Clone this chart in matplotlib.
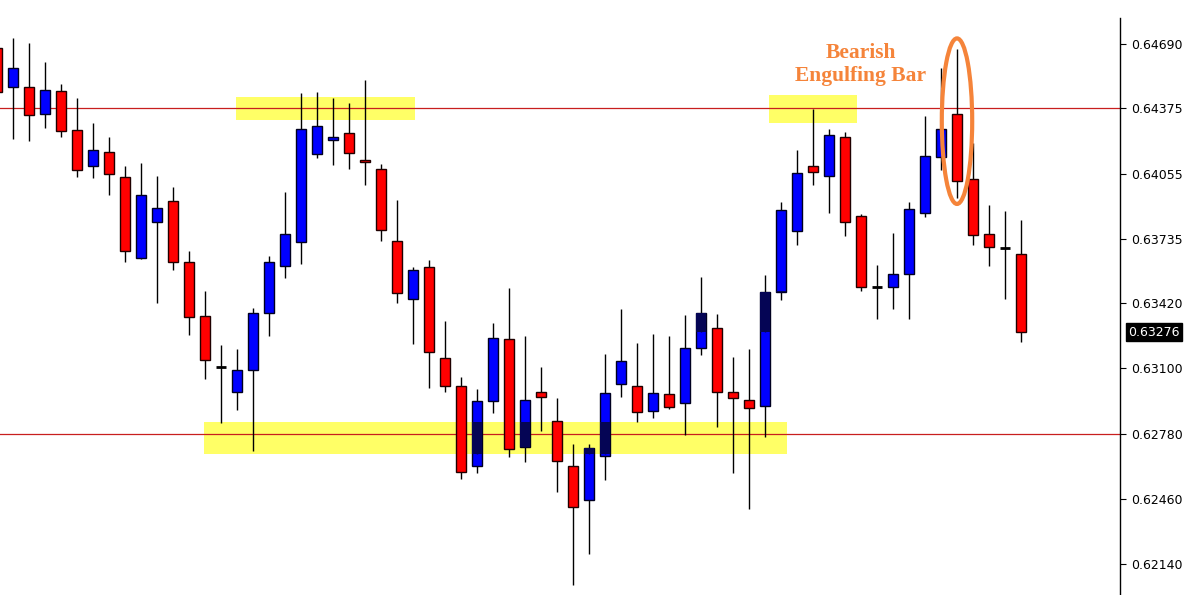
"""Candlestick chart: double top with a bearish engulfing bar."""

import matplotlib
matplotlib.use("Agg")
import matplotlib.pyplot as plt
from matplotlib.patches import Ellipse, Rectangle
import numpy as np

# OHLC, oldest first (first candle is cut by the left edge)
opens = [
    0.64670, 0.64479, 0.64479, 0.64347, 0.64460, 0.64268, 0.64092, 0.64160,
    0.64038, 0.63641, 0.63817, 0.63920, 0.63621, 0.63356, 0.63105, 0.62983,
    0.63091, 0.63371, 0.63601, 0.63719, 0.64151, 0.64219, 0.64254, 0.64121,
    0.64077, 0.63724, 0.63440, 0.63596, 0.63150, 0.63013, 0.62621, 0.62939,
    0.63243, 0.62714, 0.62983, 0.62841, 0.62621, 0.62454, 0.62670, 0.63023,
    0.63013, 0.62890, 0.62974, 0.62930, 0.63199, 0.63297, 0.62983, 0.62944,
    0.62915, 0.63474, 0.63773, 0.64092, 0.64043, 0.64234, 0.63847, 0.63498,
    0.63498, 0.63562, 0.63861, 0.64136, 0.64347, 0.64028, 0.63758, 0.63690,
    0.63660,
]
highs = [
    0.64700, 0.64719, 0.64695, 0.64602, 0.64494, 0.64425, 0.64303, 0.64234,
    0.64092, 0.64106, 0.64043, 0.63989, 0.63675, 0.63479, 0.63214, 0.63194,
    0.63395, 0.63650, 0.63964, 0.64450, 0.64455, 0.64425, 0.64401, 0.64513,
    0.64102, 0.63925, 0.63596, 0.63631, 0.63332, 0.63057, 0.62998, 0.63322,
    0.63493, 0.63258, 0.63106, 0.62954, 0.62728, 0.62728, 0.63170, 0.63390,
    0.63224, 0.63268, 0.63258, 0.63361, 0.63547, 0.63366, 0.63155, 0.63194,
    0.63557, 0.63915, 0.64170, 0.64370, 0.64273, 0.64258, 0.63856, 0.63606,
    0.63763, 0.63915, 0.64337, 0.64572, 0.64665, 0.64205, 0.63900, 0.63871,
    0.63827,
]
lows = [
    0.64425, 0.64224, 0.64214, 0.64278, 0.64234, 0.64038, 0.64033, 0.63950,
    0.63621, 0.63636, 0.63420, 0.63582, 0.63263, 0.63047, 0.62831, 0.62895,
    0.62694, 0.63258, 0.63542, 0.63611, 0.64131, 0.64097, 0.64077, 0.63999,
    0.63724, 0.63420, 0.63219, 0.63003, 0.62983, 0.62557, 0.62586, 0.62880,
    0.62665, 0.62640, 0.62792, 0.62493, 0.62037, 0.62189, 0.62552, 0.62959,
    0.62836, 0.62856, 0.62900, 0.62773, 0.63165, 0.62812, 0.62586, 0.62410,
    0.62763, 0.63435, 0.63704, 0.63999, 0.63861, 0.63748, 0.63479, 0.63341,
    0.63390, 0.63341, 0.63842, 0.64072, 0.63935, 0.63704, 0.63601, 0.63440,
    0.63229,
]
closes = [
    0.64455, 0.64572, 0.64342, 0.64464, 0.64263, 0.64072, 0.64170, 0.64053,
    0.63675, 0.63950, 0.63886, 0.63621, 0.63351, 0.63140, 0.63105, 0.63091,
    0.63371, 0.63621, 0.63758, 0.64273, 0.64288, 0.64234, 0.64155, 0.64111,
    0.63778, 0.63469, 0.63582, 0.63180, 0.63013, 0.62591, 0.62939, 0.63248,
    0.62704, 0.62944, 0.62959, 0.62645, 0.62419, 0.62709, 0.62979, 0.63135,
    0.62885, 0.62979, 0.62910, 0.63199, 0.63371, 0.62983, 0.62954, 0.62905,
    0.63474, 0.63876, 0.64057, 0.64062, 0.64244, 0.63817, 0.63498, 0.63498,
    0.63562, 0.63881, 0.64141, 0.64273, 0.64018, 0.63753, 0.63694, 0.63690,
    0.63276,
]

y_ticks = [0.64690, 0.64375, 0.64055, 0.63735, 0.63420, 0.63100, 0.62780, 0.62460, 0.62140]
levels = [0.64375, 0.62780]
last_price = 0.63276

# highlight zones: (first bar, last bar, low, high)
zones = [
    (14.94, 26.1, 0.64317, 0.64430),
    (48.25, 53.75, 0.64303, 0.64440),
    (12.94, 49.38, 0.62679, 0.62836),
]
# a zone that is barely visible but still darkens the blue bodies
hidden_zone = (43.3, 49.6, 0.63278, 0.63480)

pattern_bar = 60
label_text = "Bearish\nEngulfing Bar"

UP = "#0000ff"
DOWN = "#ff0000"
SHADE = "#050555"
ZONE = "#ffff66"
ORANGE = "#f5843a"


def main() -> None:
    o = np.array(opens)
    h = np.array(highs)
    l = np.array(lows)
    c = np.array(closes)
    x = np.arange(len(o))
    width = 0.62

    fig = plt.figure(figsize=(11.91, 5.95), dpi=100)
    ax = fig.add_axes([0.0, 0.0, 1120 / 1191, 1 - 18 / 595])

    for x0, x1, lo, hi in zones:
        ax.add_patch(Rectangle((x0, lo), x1 - x0, hi - lo, color=ZONE, lw=0, zorder=1))

    for lv in levels:
        ax.axhline(lv, color="#c81e1e", lw=0.9, zorder=2)

    ax.vlines(x, l, h, color="black", lw=1.0, zorder=3)

    doji = np.isclose(o, c)
    up = (c > o) & ~doji
    down = (c < o) & ~doji
    for mask, col in ((up, UP), (down, DOWN)):
        bottom = np.minimum(o, c)[mask]
        height = np.abs(c - o)[mask]
        ax.bar(x[mask], height, width, bottom=bottom, color=col,
               edgecolor="#200000" if col == DOWN else "#000020", lw=1.0, zorder=4)
    ax.hlines(o[doji], x[doji] - width / 2, x[doji] + width / 2,
              color="black", lw=2.0, zorder=4)

    # blue bodies look dark where they cross a highlight zone
    for x0, x1, lo, hi in zones + [hidden_zone]:
        for i in x[up]:
            if x0 <= i <= x1:
                b0 = max(o[i], lo)
                b1 = min(c[i], hi)
                if b1 > b0:
                    ax.add_patch(Rectangle((i - width / 2, b0), width, b1 - b0,
                                           color=SHADE, lw=0, zorder=5))
                    ax.vlines(i, b0, b1, color=SHADE, lw=1.0, zorder=5)

    ax.add_patch(Ellipse((pattern_bar, 0.64312), 1.9, 0.00812, fill=False,
                         edgecolor=ORANGE, lw=3.0, zorder=6))
    ax.text(54.0, 0.64592, label_text, ha="center", va="center",
            family="Liberation Serif", fontweight="bold", fontsize=15.5,
            color=ORANGE, linespacing=1.2, zorder=6)

    ax.set_xlim(0.1875, 70.1875)
    ax.set_ylim(0.61988, 0.64818)

    for side in ("top", "left", "bottom"):
        ax.spines[side].set_visible(False)
    ax.spines["right"].set_linewidth(1.0)
    ax.set_xticks([])
    ax.yaxis.tick_right()
    ax.set_yticks(y_ticks)
    ax.set_yticklabels([f"{v:.5f}" for v in y_ticks])
    ax.tick_params(axis="y", length=4, width=0.8, pad=4, labelsize=9,
                   colors="black")

    ax.annotate(f"{last_price:.5f}", xy=(1.0, last_price),
                xycoords=("axes fraction", "data"),
                xytext=(6, 0), textcoords="offset points",
                ha="left", va="center", fontsize=9, color="white",
                bbox=dict(boxstyle="square,pad=0.2", fc="black", ec="black"),
                annotation_clip=False)

    fig.savefig("out.png", dpi=100, facecolor="white")
    plt.close(fig)


if __name__ == "__main__":
    main()
